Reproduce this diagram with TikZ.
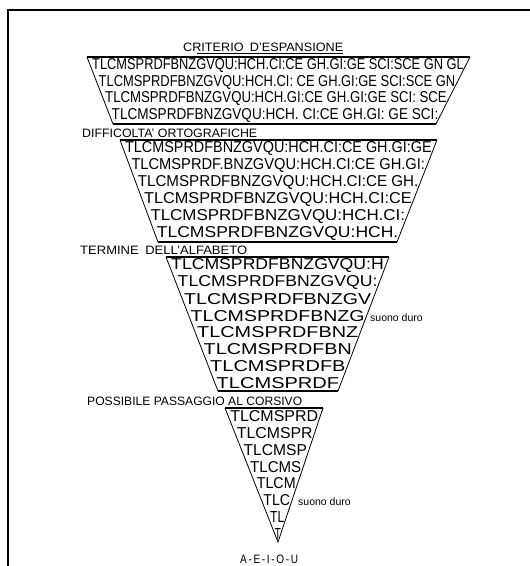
\documentclass[tikz,border=0pt]{standalone}
\usepackage{fontspec}
\setmainfont{Liberation Sans}
\usepackage{graphicx}
\usetikzlibrary{positioning,calc}

\tikzset{
  lettrow/.style={inner sep=0pt, anchor=center},
  heading/.style={inner sep=0pt, anchor=west},
  note/.style={inner sep=0pt, anchor=west, font=\fontsize{10.5}{12}\selectfont},
  side/.style={line width=0.8pt},
  rim/.style={line width=2.2pt},
  base/.style={line width=1.2pt}
}

% rows of letters squeezed between the two slanted sides
% #1 prefix, #2 top y, #3 pitch, #4 left x, #5 left slope, #6 right x, #7 right slope, #8 rows
\newcommand{\letterrows}[8]{%
  \foreach \txt [count=\i] in {#8}{
    \pgfmathsetmacro\yy{#2+(\i-0.5)*#3}
    \pgfmathsetmacro\xl{#4+#5*(\yy-#2)}
    \pgfmathsetmacro\xr{#6-#7*(\yy-#2)}
    \pgfmathsetmacro\ww{max(\xr-\xl-4,6)}
    \node[lettrow] (#1\i) at ({(\xl+\xr)/2},\yy) {\resizebox{\ww pt}{11pt}{\txt}};
  }}
% capital headings, stretched to the width they take in the drawing
\newcommand{\caps}[2]{\resizebox{#1pt}{8.5pt}{#2}}

\begin{document}
\begin{tikzpicture}[x=1pt,y=-1pt]
  \useasboundingbox (0,0) rectangle (530,566);
  \draw[line width=1.5pt] (530,10) -- (8,10) -- (8,566);

  % corners of the four blocks
  \coordinate (t1a) at (87,57);   \coordinate (t1b) at (470,57);
  \coordinate (t1c) at (436,124); \coordinate (t1d) at (113,124);
  \coordinate (t2a) at (120,140); \coordinate (t2b) at (437,140);
  \coordinate (t2c) at (397,242); \coordinate (t2d) at (158,242);
  \coordinate (t3a) at (166,257); \coordinate (t3b) at (389,257);
  \coordinate (t3c) at (338,391); \coordinate (t3d) at (218,391);
  \coordinate (t4a) at (225,408); \coordinate (t4b) at (323,408);
  \coordinate (tip) at (278,542);

  \draw[side] (t1a) -- (t1d) (t1b) -- (t1c);
  \draw[base] (t1d) -- (t1c);
  \draw[rim] (t1a) -- (t1b);
  \draw[side] (t2a) -- (t2d) (t2b) -- (t2c);
  \draw[base] (t2d) -- (t2c);
  \draw[rim] (t2a) -- (t2b);
  \draw[side] (t3a) -- (t3d) (t3b) -- (t3c);
  \draw[base] (t3d) -- (t3c);
  \draw[rim] (t3a) -- (t3b);
  \draw[side] (t4a) -- (tip) -- (t4b);
  \draw[rim] (t4a) -- (t4b);

  \letterrows{ra}{57}{16.75}{87}{0.388}{470}{0.507}{
    TLCMSPRDFBNZGVQU:HCH.CI:CE GH.GI:GE SCI:SCE GN GL,
    TLCMSPRDFBNZGVQU:HCH.CI: CE GH.GI:GE SCI:SCE GN,
    TLCMSPRDFBNZGVQU:HCH.GI:CE GH.GI:GE SCI: SCE,
    TLCMSPRDFBNZGVQU:HCH. CI:CE GH.GI: GE SCI:}
  \letterrows{rb}{140}{17}{120}{0.373}{437}{0.392}{
    TLCMSPRDFBNZGVQU:HCH.CI:CE GH.GI:GE,
    TLCMSPRDF.BNZGVQU:HCH.CI:CE GH.GI:,
    TLCMSPRDFBNZGVQU:HCH.CI:CE GH.,
    TLCMSPRDFBNZGVQU:HCH.CI:CE,
    TLCMSPRDFBNZGVQU:HCH.CI:,
    TLCMSPRDFBNZGVQU:HCH.}
  \letterrows{rc}{257}{16.75}{166}{0.388}{389}{0.381}{
    TLCMSPRDFBNZGVQU:H, TLCMSPRDFBNZGVQU:, TLCMSPRDFBNZGV,
    TLCMSPRDFBNZG, TLCMSPRDFBNZ, TLCMSPRDFBN, TLCMSPRDFB, TLCMSPRDF}
  \letterrows{rd}{408}{16.75}{225}{0.396}{323}{0.336}{
    TLCMSPRD, TLCMSPR, TLCMSP, TLCMS, TLCM, TLC, TL, T}

  \node[heading] (crit) at (183,47) {\caps{160}{CRITERIO\enspace D'ESPANSIONE}};
  \draw[side] ([xshift=14pt,yshift=-2pt]crit.south west) -- ([yshift=-2pt]crit.south east);
  \node[heading] (diff) at (82,133) {\caps{175}{DIFFICOLTA' ORTOGRAFICHE}};
  \node[heading] (term) at (80,250) {\caps{167}{TERMINE\enspace DELL'ALFABETO}};
  \node[heading] (poss) at (87,401) {\caps{215}{POSSIBILE PASSAGGIO AL CORSIVO}};

  \node[note] (hard1) at (370,318) {suono duro};
  \node[note] (hard2) at (298,502) {suono duro};
  \node[heading] (vow) at (240,559) {\caps{58}{A\,-\,E\,-\,I\,-\,O\,-\,U}};
\end{tikzpicture}
\end{document}
